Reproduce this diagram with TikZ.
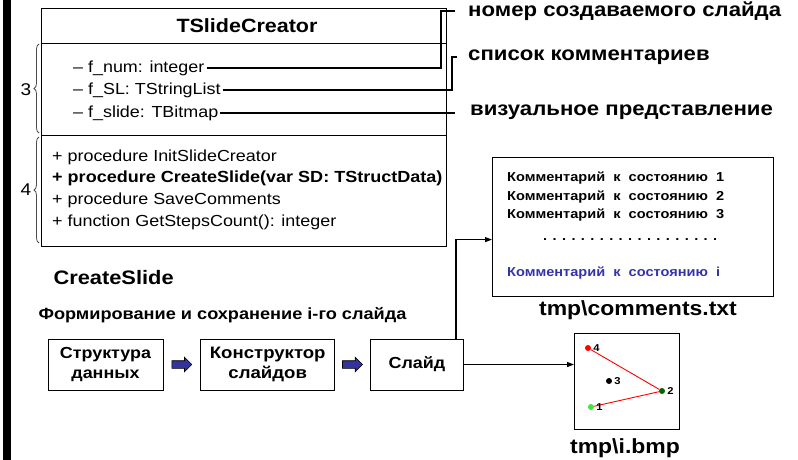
\documentclass[tikz,border=0pt]{standalone}
\usepackage{fontspec}
\setmainfont[FakeStretch=1.12]{Liberation Sans}
\usetikzlibrary{positioning, arrows.meta, calc, decorations.pathreplacing, shapes.arrows}
\definecolor{arrowblue}{RGB}{51,51,153}
\definecolor{textblue}{RGB}{51,51,170}
\definecolor{darkgreen}{RGB}{0,100,0}
\definecolor{lightgreen}{RGB}{60,230,60}

\begin{document}
\begin{tikzpicture}[
    x=1pt, y=-1pt,
    every node/.style={align=center},
    field/.style={anchor=west, inner sep=2pt, font=\fontsize{16}{19}\selectfont},
    method/.style={anchor=west, inner sep=0pt, font=\fontsize{16}{19}\selectfont},
    note/.style={anchor=west, inner sep=0pt, font=\bfseries\fontsize{19.8}{22}\selectfont},
    link/.style={line width=1.8pt},
    flowbox/.style={draw, line width=1pt, minimum height=51pt, font=\bfseries\fontsize{16}{20}\selectfont},
    blockarrow/.style={single arrow, draw, fill=arrowblue, minimum height=20pt, single arrow head extend=3.5pt, inner sep=3.5pt, line width=0.6pt},
    fwdarrow/.style={-{Triangle[length=7pt,width=5pt]}, line width=1.2pt},
    comment/.style={anchor=west, inner sep=0pt, font=\bfseries\fontsize{13}{15}\selectfont},
    vertex/.style={circle, inner sep=0pt, minimum size=6pt},
    ptlabel/.style={inner sep=0pt, font=\bfseries\fontsize{10}{11}\selectfont},
    caption/.style={font=\bfseries\fontsize{20.5}{22}\selectfont},
    brace/.style={decorate, decoration={brace, amplitude=5pt}, gray!60!black, line width=0.8pt}
]
\useasboundingbox (0,0) rectangle (798,460);

% левая полоса
\fill (3,0) rectangle (11,460);

% класс
\node[draw, line width=1pt, minimum width=405pt, minimum height=238pt, anchor=north west] (cls) at (41,8) {};
\draw[line width=1pt] (cls.west |- 0,44) -- (cls.east |- 0,44);
\draw[line width=1pt] (cls.west |- 0,135) -- (cls.east |- 0,135);
\node[font=\bfseries\fontsize{19.2}{21}\selectfont] (title) at (247,26) {TSlideCreator};

% поля
\node[field] (fnum) at (71,68) {– f\_num: integer};
\node[field] (fsl) at (71,90) {– f\_SL: TStringList};
\node[field] (fslide) at (71,113) {– f\_slide: TBitmap};

% методы
\node[method] (minit) at (52,157) {+ procedure InitSlideCreator};
\node[method, font=\bfseries\fontsize{16.1}{19}\selectfont] (mcreate) at (52,178) {+ procedure CreateSlide(var SD: TStructData)};
\node[method] (msave) at (52,200) {+ procedure SaveComments};
\node[method] (msteps) at (52,222) {+ function GetStepsCount(): integer};

% скобки
\draw[brace] (39,133) -- (39,44);
\node[font=\fontsize{17}{19}\selectfont] (three) at (26,90) {3};
\draw[brace] (39,243) -- (39,137);
\node[font=\fontsize{17}{19}\selectfont] (four) at (26,190) {4};

% подписи полей
\node[note] (numlbl) at (468,11) {номер создаваемого слайда};
\node[note] (sllbl) at (468,57) {список комментариев};
\node[note] (viewlbl) at (470,112) {визуальное представление};

\draw[link] (fnum.east) -| ([xshift=-27pt]numlbl.west) -- ([xshift=-13pt]numlbl.west);
\draw[link] (fsl.east) -| ([xshift=-16pt]sllbl.west) -- ([xshift=-11pt]sllbl.west);
\draw[link] (fslide.east) -- ($(fslide.east -| viewlbl.west)+(-15,0)$);

% файл комментариев
\node[draw, line width=1.2pt, minimum width=281pt, minimum height=139pt, anchor=north west] (comments) at (492,157) {};
\node[comment] (c1) at (507,178) {Комментарий~ к~ состоянию~ 1};
\node[comment] (c2) at (507,197) {Комментарий~ к~ состоянию~ 2};
\node[comment] (c3) at (507,215) {Комментарий~ к~ состоянию~ 3};
\node[comment] (cdots) at (543,240) {. . . . . . . . . . . . . . . . . . .};
\node[comment, text=textblue] (ci) at (507,273) {Комментарий~ к~ состоянию~ i};
\node[caption] (cfile) at (638,310) {tmp\textbackslash comments.txt};

% CreateSlide
\node[anchor=west, font=\bfseries\fontsize{19.5}{22}\selectfont] (cstitle) at (50,278) {CreateSlide};
\node[anchor=west, font=\bfseries\fontsize{16.2}{18}\selectfont] (cssub) at (35,315) {Формирование и сохранение i-го слайда};

\node[flowbox, minimum width=115pt] (data) at (105.5,364.5) {Структура\\данных};
\node[blockarrow, right=8pt of data] (ar1) {};
\node[flowbox, minimum width=134pt, right=8pt of ar1, font=\bfseries\fontsize{16.6}{20}\selectfont] (ctor) {Конструктор\\слайдов};
\node[blockarrow, right=7pt of ctor] (ar2) {};
\node[flowbox, minimum width=93pt, right=7pt of ar2] (slide) {Слайд};

% bmp
\node[draw, line width=1.2pt, minimum width=105pt, minimum height=96pt, anchor=north west] (bmp) at (574,333) {};
\node[caption] (bfile) at (625,448) {tmp\textbackslash i.bmp};

\draw[fwdarrow] ([xshift=-8pt]slide.north east) |- ([yshift=-12.5pt]comments.west);
\draw[fwdarrow] (slide.east) -- (slide.east -| bmp.west);

\node[vertex, fill=red] (v4) at (588,348) {};
\node[vertex, fill=darkgreen] (v2) at (662,391) {};
\node[vertex, fill=black] (v3) at (609,381) {};
\node[vertex, fill=lightgreen] (v1) at (591,407) {};
\draw[red, line width=0.9pt] (v4) -- (v2) -- (v1);
\node[ptlabel, right=2pt of v4] (l4) {4};
\node[ptlabel, right=2pt of v2] (l2) {2};
\node[ptlabel, right=2pt of v3] (l3) {3};
\node[ptlabel, right=2pt of v1] (l1) {1};

\end{tikzpicture}
\end{document}
